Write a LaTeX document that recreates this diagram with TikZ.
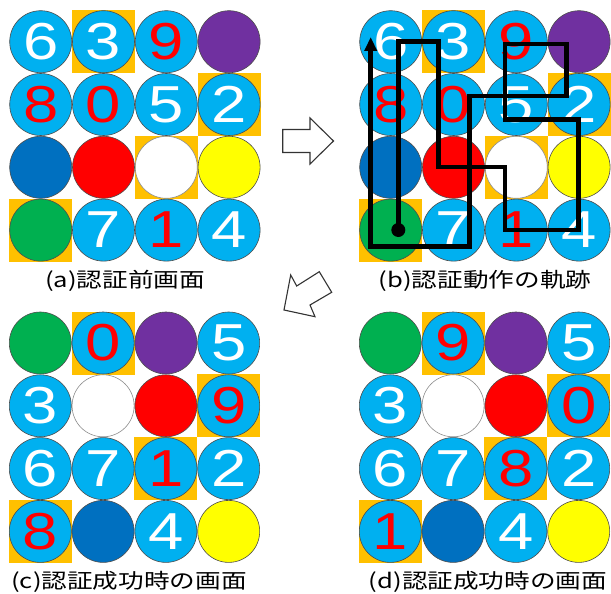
\documentclass[tikz,border=0pt]{standalone}
\usepackage{fontspec}
\usepackage{graphicx}
\usetikzlibrary{arrows.meta}
\newfontfamily\digitfont{Liberation Sans}
\newfontfamily\jpfont{Noto Sans CJK JP}
\definecolor{cyanb}{HTML}{00B0F0}
\definecolor{dblue}{HTML}{0070C0}
\definecolor{redq}{HTML}{FF0000}
\definecolor{yellowq}{HTML}{FFFF00}
\definecolor{greenq}{HTML}{00B050}
\definecolor{purpleq}{HTML}{7030A0}
\definecolor{orangeq}{HTML}{FFC000}
\pgfdeclarelayer{bg}
\pgfsetlayers{bg,main}
\tikzset{
  disc/.style={circle, draw=black!70, line width=0.6pt, minimum size=62pt, inner sep=0pt,
    font=\digitfont\fontsize{52}{52}\selectfont},
  sqr/.style={fill=orangeq},
  caption/.style={font=\jpfont\fontsize{20.5}{24}\selectfont, anchor=base, inner sep=0pt},
  trail/.style={line width=4.5pt, line join=miter, line cap=butt, draw=black},
  bigarrow/.style={draw=black!80, fill=white, line width=1.1pt, line join=miter},
}
\newcommand\mycell[6]{\node[disc, fill=#4, text=#5] (#1) at ({#2*62.8},{#3*62.8}) {\scalebox{1.22}[1]{#6}};}
\newcommand\mysq[2]{\begin{pgfonlayer}{bg}\fill[sqr] ({#1*62.8-31.5},{#2*62.8-31.5}) rectangle ++(63,63);\end{pgfonlayer}}
\newcommand\panelA[1]{%
  \mysq{1}{0}\mysq{3}{1}\mysq{2}{2}\mysq{0}{3}%
  \mycell{#1-11}{0}{0}{cyanb}{white}{6}%
  \mycell{#1-12}{1}{0}{cyanb}{white}{3}%
  \mycell{#1-13}{2}{0}{cyanb}{redq}{9}%
  \mycell{#1-14}{3}{0}{purpleq}{white}{}%
  \mycell{#1-21}{0}{1}{cyanb}{redq}{8}%
  \mycell{#1-22}{1}{1}{cyanb}{redq}{0}%
  \mycell{#1-23}{2}{1}{cyanb}{white}{5}%
  \mycell{#1-24}{3}{1}{cyanb}{white}{2}%
  \mycell{#1-31}{0}{2}{dblue}{white}{}%
  \mycell{#1-32}{1}{2}{redq}{white}{}%
  \mycell{#1-33}{2}{2}{white, draw=black!45}{white}{}%
  \mycell{#1-34}{3}{2}{yellowq}{white}{}%
  \mycell{#1-41}{0}{3}{greenq}{white}{}%
  \mycell{#1-42}{1}{3}{cyanb}{white}{7}%
  \mycell{#1-43}{2}{3}{cyanb}{redq}{1}%
  \mycell{#1-44}{3}{3}{cyanb}{white}{4}%
}
\begin{document}
\begin{tikzpicture}[x=1pt, y=-1pt]
\begin{pgfonlayer}{bg}
\fill[white] (0,0) rectangle (611,594);
\end{pgfonlayer}
\useasboundingbox (0,0) rectangle (611,594);

% (a)
\begin{scope}[shift={(40.7,41.7)}]
\panelA{a}
\end{scope}
% (b)
\begin{scope}[shift={(390.7,41.7)}]
\panelA{b}
\end{scope}
% (c)
\begin{scope}[shift={(40.3,343)}]
  \mysq{1}{0}\mysq{3}{1}\mysq{2}{2}\mysq{0}{3}
  \mycell{c-11}{0}{0}{greenq}{white}{}
  \mycell{c-12}{1}{0}{cyanb}{redq}{0}
  \mycell{c-13}{2}{0}{purpleq}{white}{}
  \mycell{c-14}{3}{0}{cyanb}{white}{5}
  \mycell{c-21}{0}{1}{cyanb}{white}{3}
  \mycell{c-22}{1}{1}{white, draw=black!45}{white}{}
  \mycell{c-23}{2}{1}{redq}{white}{}
  \mycell{c-24}{3}{1}{cyanb}{redq}{9}
  \mycell{c-31}{0}{2}{cyanb}{white}{6}
  \mycell{c-32}{1}{2}{cyanb}{white}{7}
  \mycell{c-33}{2}{2}{cyanb}{redq}{1}
  \mycell{c-34}{3}{2}{cyanb}{white}{2}
  \mycell{c-41}{0}{3}{cyanb}{redq}{8}
  \mycell{c-42}{1}{3}{dblue}{white}{}
  \mycell{c-43}{2}{3}{cyanb}{white}{4}
  \mycell{c-44}{3}{3}{yellowq}{white}{}
\end{scope}
% (d)
\begin{scope}[shift={(390.3,343)}]
  \mysq{1}{0}\mysq{3}{1}\mysq{2}{2}\mysq{0}{3}
  \mycell{d-11}{0}{0}{greenq}{white}{}
  \mycell{d-12}{1}{0}{cyanb}{redq}{9}
  \mycell{d-13}{2}{0}{purpleq}{white}{}
  \mycell{d-14}{3}{0}{cyanb}{white}{5}
  \mycell{d-21}{0}{1}{cyanb}{white}{3}
  \mycell{d-22}{1}{1}{white, draw=black!45}{white}{}
  \mycell{d-23}{2}{1}{redq}{white}{}
  \mycell{d-24}{3}{1}{cyanb}{redq}{0}
  \mycell{d-31}{0}{2}{cyanb}{white}{6}
  \mycell{d-32}{1}{2}{cyanb}{white}{7}
  \mycell{d-33}{2}{2}{cyanb}{redq}{8}
  \mycell{d-34}{3}{2}{cyanb}{white}{2}
  \mycell{d-41}{0}{3}{cyanb}{redq}{1}
  \mycell{d-42}{1}{3}{dblue}{white}{}
  \mycell{d-43}{2}{3}{cyanb}{white}{4}
  \mycell{d-44}{3}{3}{yellowq}{white}{}
\end{scope}

% trace in (b)
\coordinate (t0) at (398.3,230);
\coordinate (t1) at (398.3,41.7);
\coordinate (t2) at (438.3,41.7);
\coordinate (t3) at (438.3,167);
\coordinate (t4) at (505,167);
\coordinate (t5) at (505,230);
\coordinate (t6) at (578.3,230);
\coordinate (t7) at (578.3,119.3);
\coordinate (t8) at (505,119.3);
\coordinate (t9) at (505,44);
\coordinate (t10) at (566.7,44);
\coordinate (t11) at (566.7,96);
\coordinate (t12) at (469.5,96);
\coordinate (t13) at (469.5,246.7);
\coordinate (t14) at (370.7,246.7);
\coordinate (t15) at (370.7,37);
\draw[trail, -{Triangle[width=12pt,length=14pt]}] (t0) -- (t1) -- (t2) -- (t3) -- (t4) -- (t5) -- (t6) -- (t7) -- (t8) -- (t9) -- (t10) -- (t11) -- (t12) -- (t13) -- (t14) -- (t15);
\fill[black] (t0) circle (7pt);

% block arrows
\coordinate (r1) at (282.7,129.5);
\coordinate (r2) at (310,129.5);
\coordinate (r3) at (310,118);
\coordinate (r4) at (333.5,141);
\coordinate (r5) at (310,164);
\coordinate (r6) at (310,152.5);
\coordinate (r7) at (282.7,152.5);
\draw[bigarrow] (r1) -- (r2) -- (r3) -- (r4) -- (r5) -- (r6) -- (r7) -- cycle;
\coordinate (l1) at (290.7,275);
\coordinate (l2) at (296.7,286);
\coordinate (l3) at (319.3,271.7);
\coordinate (l4) at (331.7,292.3);
\coordinate (l5) at (310,305);
\coordinate (l6) at (315,316.7);
\coordinate (l7) at (284,310);
\draw[bigarrow] (l1) -- (l2) -- (l3) -- (l4) -- (l5) -- (l6) -- (l7) -- cycle;

% captions
\node[caption] (capa) at (125,287.7) {\scalebox{1.25}[1]{(a)認証前画面}};
\node[caption] (capb) at (485,287.7) {\scalebox{1.25}[1]{(b)認証動作の軌跡}};
\node[caption] (capc) at (129,588.7) {\scalebox{1.25}[1]{(c)認証成功時の画面}};
\node[caption] (capd) at (488,588.7) {\scalebox{1.25}[1]{(d)認証成功時の画面}};
\end{tikzpicture}
\end{document}
